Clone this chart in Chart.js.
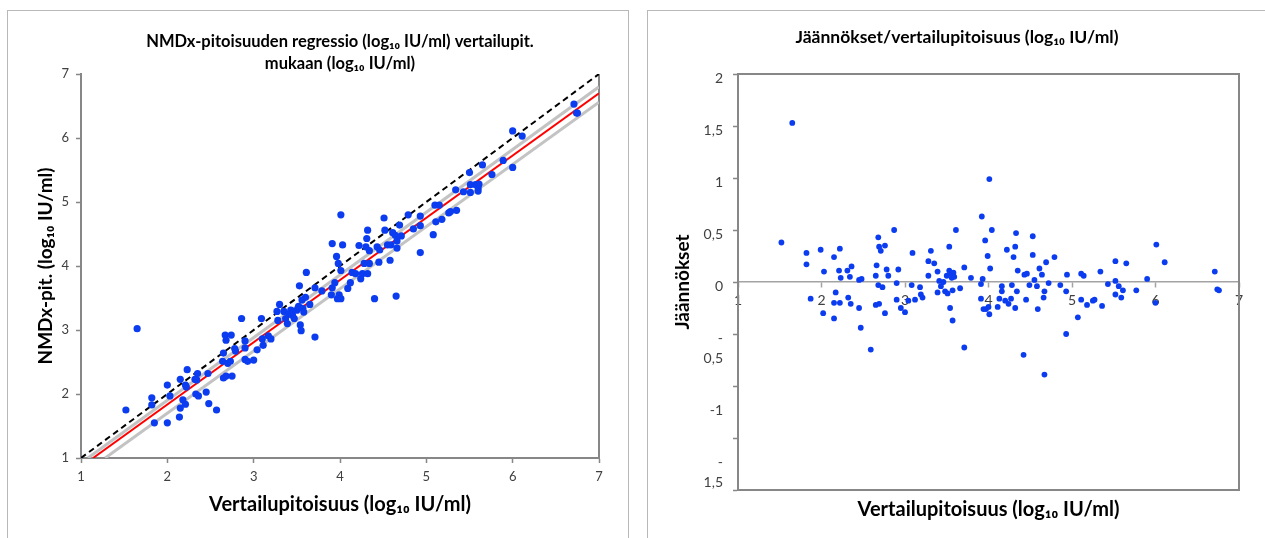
<!DOCTYPE html>
<html>
<head>
<meta charset="utf-8">
<script src="https://cdn.jsdelivr.net/npm/chart.js@4.4.1/dist/chart.umd.min.js"></script>
<style>
html, body { margin: 0; padding: 0; background: #fff; width: 1265px; height: 538px; overflow: hidden; }
.panel { position: absolute; border: 1px solid #b8b8b8; }
#leftPanel { left: 7px; top: 10px; width: 620px; height: 620px; }
#rightPanel { left: 647px; top: 10px; width: 700px; height: 620px; }
canvas { position: absolute; top: 0; }
#nmdxChart { left: 0; }
#residChart { left: 640px; }
</style>
</head>
<body>
<div class="panel" id="leftPanel"></div>
<div class="panel" id="rightPanel"></div>
<canvas id="nmdxChart" width="640" height="538"></canvas>
<canvas id="residChart" width="625" height="560"></canvas>
<script>
// vertailupitoisuus (x) ja NMDx-pitoisuus (y), log10 IU/ml
const refConc = [1.52, 1.65, 1.82, 1.82, 1.85, 2.00, 2.03, 2.00, 2.15, 2.15, 2.14, 2.18, 2.21, 2.22, 2.23, 2.21,
    2.32, 2.33, 2.35, 2.36, 2.34, 2.45, 2.47, 2.48, 2.57, 2.65, 2.64, 2.65, 2.67, 2.68, 2.70, 2.68, 2.73, 2.74,
    2.75, 2.78, 2.79, 2.86, 2.90, 2.90, 2.90, 2.93, 3.00, 3.04, 3.09, 3.10, 3.11, 3.17, 3.20, 3.27, 3.28, 3.30,
    3.35, 3.37, 3.39, 3.41, 3.43, 3.45, 3.47, 3.50, 3.52, 3.53, 3.54, 3.55, 3.56, 3.57, 3.58, 3.60, 3.61, 3.65,
    3.71, 3.71, 3.79, 3.90, 3.91, 3.91, 3.94, 3.96, 3.98, 3.97, 3.99, 4.01, 4.01, 4.03, 4.01, 4.09, 4.12, 4.14,
    4.18, 4.22, 4.24, 4.26, 4.28, 4.30, 4.31, 4.32, 4.32, 4.34, 4.34, 4.40, 4.43, 4.45, 4.46, 4.51, 4.52, 4.55,
    4.58, 4.59, 4.61, 4.64, 4.66, 4.66, 4.65, 4.69, 4.71, 4.79, 4.85, 4.93, 4.93, 4.93, 5.08, 5.10, 5.11, 5.15,
    5.18, 5.26, 5.28, 5.35, 5.34, 5.43, 5.50, 5.51, 5.51, 5.57, 5.60, 5.60, 5.61, 5.65, 5.76, 5.89, 6.00, 6.00,
    6.11, 6.71, 6.74, 6.75];
const nmdxConc = [1.75, 3.02, 1.94, 1.83, 1.55, 2.14, 1.97, 1.55, 2.23, 1.78, 1.64, 1.91, 2.14, 2.11, 2.38, 1.84,
    2.23, 2.00, 2.32, 1.97, 2.22, 2.03, 2.32, 1.85, 1.75, 2.64, 2.51, 2.25, 2.92, 2.84, 2.48, 2.28, 2.51, 2.92,
    2.28, 2.71, 2.67, 3.18, 2.83, 2.72, 2.54, 2.51, 2.53, 2.69, 3.18, 2.86, 2.76, 2.91, 2.86, 3.29, 3.15, 3.40,
    3.29, 3.18, 3.10, 3.25, 3.31, 3.23, 3.18, 3.31, 3.37, 3.69, 3.08, 2.99, 3.47, 3.34, 3.28, 3.51, 3.90, 3.40,
    2.89, 3.66, 3.61, 3.55, 4.35, 3.66, 3.74, 4.15, 4.04, 3.49, 3.55, 4.80, 3.93, 4.33, 3.49, 3.65, 3.74, 3.90,
    3.88, 4.32, 3.80, 3.88, 4.04, 4.30, 4.43, 4.56, 3.88, 4.24, 4.04, 3.49, 4.30, 4.06, 4.25, 4.75, 4.56, 4.33,
    4.09, 4.33, 4.52, 4.48, 4.39, 4.28, 3.53, 4.64, 4.47, 4.80, 4.58, 4.78, 4.63, 4.21, 4.49, 4.95, 4.69, 4.95,
    4.73, 4.83, 4.85, 4.87, 5.19, 5.16, 5.46, 5.27, 5.15, 5.27, 5.22, 5.17, 5.28, 5.58, 5.43, 5.65, 6.11, 5.54,
    6.03, 6.53, 6.39, 6.39];

// viivat: y = x, regressio ja sen luottamusrajat
const identityX = [1, 7];
const identityY = [1, 7];
const regrX = [1.14, 7];
const regrY = [1, 6.70];
const upperX = [1.08, 7];
const upperY = [1, 6.80];
const lowerX = [1.28, 7];
const lowerY = [1, 6.56];

const concTicks = [1, 2, 3, 4, 5, 6, 7];

// jäännökset
const residX = [1.52, 1.65, 1.82, 1.82, 1.87, 1.99, 2.03, 2.02, 2.15, 2.17, 2.15, 2.15, 2.22, 2.21, 2.22, 2.23,
    2.31, 2.34, 2.36, 2.32, 2.35, 2.45, 2.48, 2.45, 2.47, 2.59, 2.65, 2.66, 2.68, 2.69, 2.71, 2.65, 2.69, 2.68,
    2.73, 2.76, 2.78, 2.80, 2.76, 2.87, 2.90, 2.92, 2.90, 2.95, 3.00, 3.04, 3.08, 3.09, 3.12, 3.18, 3.19, 3.21,
    3.28, 3.28, 3.31, 3.35, 3.39, 3.39, 3.41, 3.43, 3.46, 3.48, 3.50, 3.51, 3.53, 3.53, 3.55, 3.56, 3.57, 3.54,
    3.57, 3.58, 3.59, 3.61, 3.66, 3.71, 3.71, 3.79, 3.91, 3.92, 3.93, 3.91, 3.94, 3.96, 3.97, 3.99, 4.00, 4.01,
    4.02, 4.01, 4.04, 4.11, 4.16, 4.16, 4.13, 4.22, 4.20, 4.24, 4.27, 4.28, 4.30, 4.32, 4.32, 4.33, 4.34, 4.35,
    4.42, 4.43, 4.45, 4.46, 4.49, 4.53, 4.53, 4.55, 4.58, 4.59, 4.61, 4.64, 4.66, 4.67, 4.69, 4.72, 4.67, 4.79,
    4.86, 4.93, 4.94, 4.93, 5.07, 5.11, 5.14, 5.11, 5.18, 5.25, 5.27, 5.34, 5.36, 5.43, 5.52, 5.52, 5.52, 5.56,
    5.59, 5.61, 5.65, 5.77, 5.90, 6.00, 6.01, 6.11, 6.71, 6.74, 6.76];
const residY = [0.38, 1.53, 0.28, 0.17, -0.16, 0.31, 0.10, -0.30, 0.24, -0.10, -0.20, -0.35, 0.32, 0.11, -0.20, 0.04,
    0.11, 0.05, 0.15, -0.15, -0.21, 0.02, 0.03, -0.25, -0.44, -0.65, 0.06, 0.16, 0.43, 0.34, 0.30, -0.22, -0.21, -0.03,
    -0.05, 0.35, 0.12, 0.06, -0.30, 0.50, -0.01, 0.12, -0.17, -0.25, -0.29, -0.18, -0.03, 0.28, -0.17, -0.05, -0.12, -0.15,
    0.06, 0.20, 0.30, 0.18, 0.10, -0.10, 0.01, -0.04, 0.00, -0.09, 0.06, -0.11, 0.34, 0.11, 0.08, 0.04, -0.08, -0.25,
    -0.37, 0.09, 0.05, 0.50, -0.06, 0.14, -0.63, 0.04, -0.02, 0.63, 0.03, -0.16, -0.26, 0.40, -0.26, 0.25, -0.24, 0.99,
    0.13, -0.31, 0.50, -0.24, -0.04, -0.09, -0.16, 0.31, -0.18, -0.21, -0.16, -0.03, 0.24, 0.34, -0.25, 0.47, -0.09, 0.11,
    -0.70, 0.07, -0.17, 0.08, -0.03, 0.44, 0.26, 0.02, -0.04, -0.26, 0.13, 0.07, -0.15, -0.09, 0.19, -0.01, -0.89, 0.24,
    -0.03, -0.09, 0.07, -0.50, -0.34, 0.08, 0.06, -0.17, -0.22, -0.18, -0.17, 0.10, -0.23, -0.02, 0.20, 0.01, -0.12, -0.04,
    -0.15, -0.08, 0.18, -0.08, 0.03, -0.20, 0.36, 0.19, 0.10, -0.07, -0.08];

const residTickValues = [-2, -1.5, -1, -0.5, 0, 0.5, 1, 1.5, 2];
const residTickLabels = [['', '', '', '', '', '-2'], ['', '', '', '-', '1,5'], ['', '', '-1'], ['', '-', '0,5'],
    '0', '0,5', '1', '1,5', '2'];

const AXIS_GREY = '#878787';
const DOT_BLUE = '#0b3cf0';

Chart.defaults.font.family = 'Lato, "Open Sans", "DejaVu Sans", sans-serif';
Chart.defaults.color = '#404040';

function toPoints(xs, ys) {
    return xs.map((x, i) => ({ x: x, y: ys[i] }));
}

function lineSet(xs, ys, color, width, dash) {
    return {
        data: toPoints(xs, ys),
        showLine: true,
        borderColor: color,
        borderWidth: width,
        borderDash: dash || [],
        pointRadius: 0,
        fill: false
    };
}

const frameLines = {
    id: 'frameLines',
    beforeDatasetsDraw(chart, args, opts) {
        const { ctx, chartArea: a } = chart;
        ctx.save();
        ctx.strokeStyle = AXIS_GREY;
        ctx.lineWidth = 2;
        ctx.beginPath();
        if (opts.full) {
            ctx.rect(a.left, a.top, a.right - a.left, a.bottom - a.top);
        } else {
            ctx.moveTo(a.right, a.top);
            ctx.lineTo(a.right, a.bottom);
        }
        ctx.stroke();
        ctx.restore();
    }
};

function axisGrid() {
    return { drawOnChartArea: false, tickLength: 5, tickColor: AXIS_GREY, tickWidth: 1.5 };
}

new Chart(document.getElementById('nmdxChart'), {
    type: 'scatter',
    data: {
        datasets: [
            { data: toPoints(refConc, nmdxConc), backgroundColor: DOT_BLUE, borderColor: DOT_BLUE, pointRadius: 3.6, borderWidth: 0 },
            lineSet(regrX, regrY, '#ff0000', 2),
            lineSet(identityX, identityY, '#000000', 2, [6, 4]),
            lineSet(upperX, upperY, '#c3c3c3', 3),
            lineSet(lowerX, lowerY, '#c3c3c3', 3)
        ]
    },
    plugins: [frameLines],
    options: {
        responsive: false,
        animation: false,
        layout: { padding: { top: 0, left: 0, right: 41, bottom: 0 } },
        plugins: {
            legend: { display: false },
            tooltip: { enabled: false },
            frameLines: { full: false },
            title: {
                display: true,
                fullSize: false,
                text: ['NMDx-pitoisuuden regressio (log₁₀ IU/ml) vertailupit.', 'mukaan (log₁₀ IU/ml)'],
                color: '#000',
                font: { size: 16.5, weight: 'bold', lineHeight: '21.5px' },
                padding: { top: 31, bottom: 0 }
            }
        },
        scales: {
            x: {
                type: 'linear', min: 1, max: 7,
                afterBuildTicks: s => { s.ticks = concTicks.map(v => ({ value: v })); },
                afterFit: s => { s.height = 80; },
                border: { color: AXIS_GREY, width: 2 },
                grid: axisGrid(),
                ticks: { padding: 6, font: { size: 13 } },
                title: {
                    display: true, text: 'Vertailupitoisuus (log₁₀ IU/ml)', color: '#000',
                    font: { size: 20, weight: 'bold', lineHeight: '24px' }, padding: { top: 0, bottom: 21 }
                }
            },
            y: {
                type: 'linear', min: 1, max: 7,
                afterBuildTicks: s => { s.ticks = concTicks.map(v => ({ value: v })); },
                afterFit: s => { s.width = 81; },
                border: { color: AXIS_GREY, width: 2 },
                grid: axisGrid(),
                ticks: { padding: 7, font: { size: 13 } },
                title: {
                    display: true, text: 'NMDx-pit. (log₁₀ IU/ml)', color: '#000',
                    font: { size: 19, weight: 'bold', lineHeight: '24px' }, padding: { top: 34, bottom: 0 }
                }
            }
        }
    }
});

new Chart(document.getElementById('residChart'), {
    type: 'scatter',
    data: {
        datasets: [
            { data: toPoints(residX, residY), backgroundColor: DOT_BLUE, borderColor: DOT_BLUE, pointRadius: 2.9, borderWidth: 0 }
        ]
    },
    plugins: [frameLines],
    options: {
        responsive: false,
        animation: false,
        layout: { padding: { top: 0, left: 35, right: 26, bottom: 60 } },
        plugins: {
            legend: { display: false },
            tooltip: { enabled: false },
            frameLines: { full: true },
            title: {
                display: true,
                text: 'Jäännökset/vertailupitoisuus (log₁₀ IU/ml)',
                color: '#000',
                font: { size: 17.5, weight: 'bold', lineHeight: '20px' },
                padding: { top: 27, bottom: 27 }
            }
        },
        scales: {
            x: {
                type: 'linear', min: 1, max: 7,
                position: { y: 0 },
                afterBuildTicks: s => { s.ticks = concTicks.map(v => ({ value: v })); },
                afterFit: s => { s.height = 240; },
                border: { color: '#a3a3a3', width: 1.5 },
                grid: { drawOnChartArea: false, tickLength: 5, tickColor: '#a3a3a3', tickWidth: 1.5 },
                ticks: { padding: 5, font: { size: 14 } },
                title: {
                    display: true, text: 'Vertailupitoisuus (log₁₀ IU/ml)', color: '#000',
                    font: { size: 20, weight: 'bold', lineHeight: '20px' }, padding: { top: 0, bottom: 2 }
                }
            },
            y: {
                type: 'linear', min: -2, max: 2,
                afterBuildTicks: s => { s.ticks = residTickValues.map(v => ({ value: v })); },
                afterFit: s => { s.width = 63; },
                border: { color: AXIS_GREY, width: 2 },
                grid: axisGrid(),
                ticks: {
                    autoSkip: false,
                    padding: 10,
                    labelOffset: 4,
                    font: { size: 14, lineHeight: '20px' },
                    callback: v => residTickLabels[residTickValues.indexOf(v)]
                },
                title: {
                    display: true, text: 'Jäännökset', color: '#000',
                    font: { size: 19, weight: 'bold', lineHeight: '16px' }, padding: { top: 0, bottom: 0 }
                }
            }
        }
    }
});
</script>
</body>
</html>
